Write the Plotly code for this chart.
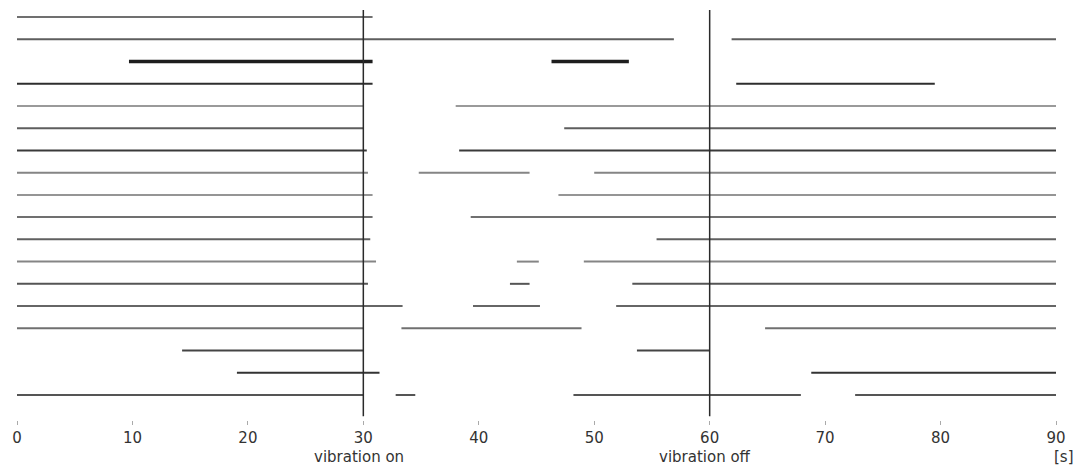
import plotly.graph_objects as go

# ---- data (seconds) ----
row_index = [1, 2, 2, 3, 3, 4, 4, 5, 5, 6, 6, 7, 7, 8, 8, 8, 9, 9, 10, 10,
             11, 11, 12, 12, 12, 13, 13, 13, 14, 14, 14, 15, 15, 15, 16, 16,
             17, 17, 18, 18, 18, 18]
seg_start = [0, 0, 61.9, 9.7, 46.3, 0, 62.3, 0, 38.0, 0, 47.4, 0, 38.3, 0, 34.8, 50.0,
             0, 46.9, 0, 39.3, 0, 55.4, 0, 43.3, 49.1, 0, 42.7, 53.3, 0, 39.5, 51.9,
             0, 33.3, 64.8, 14.3, 53.7, 19.05, 68.8, 0, 32.8, 48.2, 72.6]
seg_end = [30.8, 56.9, 90, 30.8, 53.0, 30.8, 79.5, 30.0, 90, 30.0, 90, 30.3, 90, 30.4, 44.4, 90,
           30.8, 90, 30.8, 90, 30.6, 90, 31.1, 45.2, 90, 30.4, 44.4, 90, 33.4, 45.3, 90,
           30.0, 48.9, 90, 30.0, 60.0, 31.4, 90, 30.0, 34.5, 67.9, 90]
event_times = [30, 60]
event_labels = ["vibration on", "vibration off"]
x_ticks = [0, 10, 20, 30, 40, 50, 60, 70, 80, 90]
unit_label = "[s]"

# ---- styles ----
row_colors = {1: "#707070", 2: "#5e5e5e", 3: "#1e1e1e", 4: "#2e2e2e", 5: "#9a9a9a",
              6: "#5e5e5e", 7: "#3a3a3a", 8: "#858585", 9: "#959595", 10: "#707070",
              11: "#606060", 12: "#858585", 13: "#555555", 14: "#666666", 15: "#707070",
              16: "#444444", 17: "#333333", 18: "#555555"}
row_widths = {3: 3.5}

fig = go.Figure()
rows = sorted(set(row_index))
for r in rows:
    xs, ys = [], []
    for ri, s, e in zip(row_index, seg_start, seg_end):
        if ri == r:
            xs += [s, e, None]
            ys += [r, r, None]
    fig.add_trace(go.Scatter(x=xs, y=ys, mode="lines",
                             line=dict(color=row_colors[r], width=row_widths.get(r, 2)),
                             hoverinfo="skip", showlegend=False))

for t in event_times:
    fig.add_trace(go.Scatter(x=[t, t], y=[0.685, 18.95], mode="lines",
                             line=dict(color="#2a2a2a", width=1.5),
                             hoverinfo="skip", showlegend=False))

for t, lab in zip(event_times, event_labels):
    fig.add_annotation(x=t - 0.4, y=0, yref="paper", yshift=-37, text=lab,
                       showarrow=False, xanchor="center", yanchor="middle",
                       font=dict(family="DejaVu Sans", size=15, color="#333333"))
fig.add_annotation(x=x_ticks[-1], y=0, yref="paper", yshift=-37, xshift=8,
                   text=unit_label, showarrow=False, xanchor="center", yanchor="middle",
                   font=dict(family="DejaVu Sans", size=15, color="#333333"))

fig.update_layout(
    width=1075, height=457,
    margin=dict(l=9, r=27, t=0, b=45),
    plot_bgcolor="white", paper_bgcolor="white",
    xaxis=dict(range=[0, 90], tickvals=x_ticks, ticktext=[str(v) for v in x_ticks],
               showgrid=False, zeroline=False, showline=False, automargin=False,
               ticks="outside", ticklen=4, tickwidth=1, tickcolor="#aaaaaa",
               tickfont=dict(family="DejaVu Sans", size=15, color="#333333")),
    yaxis=dict(range=[19.124, 0.5952], showgrid=False, zeroline=False, automargin=False,
               showline=False, showticklabels=False, ticks=""),
)

fig.write_html("out.html")
